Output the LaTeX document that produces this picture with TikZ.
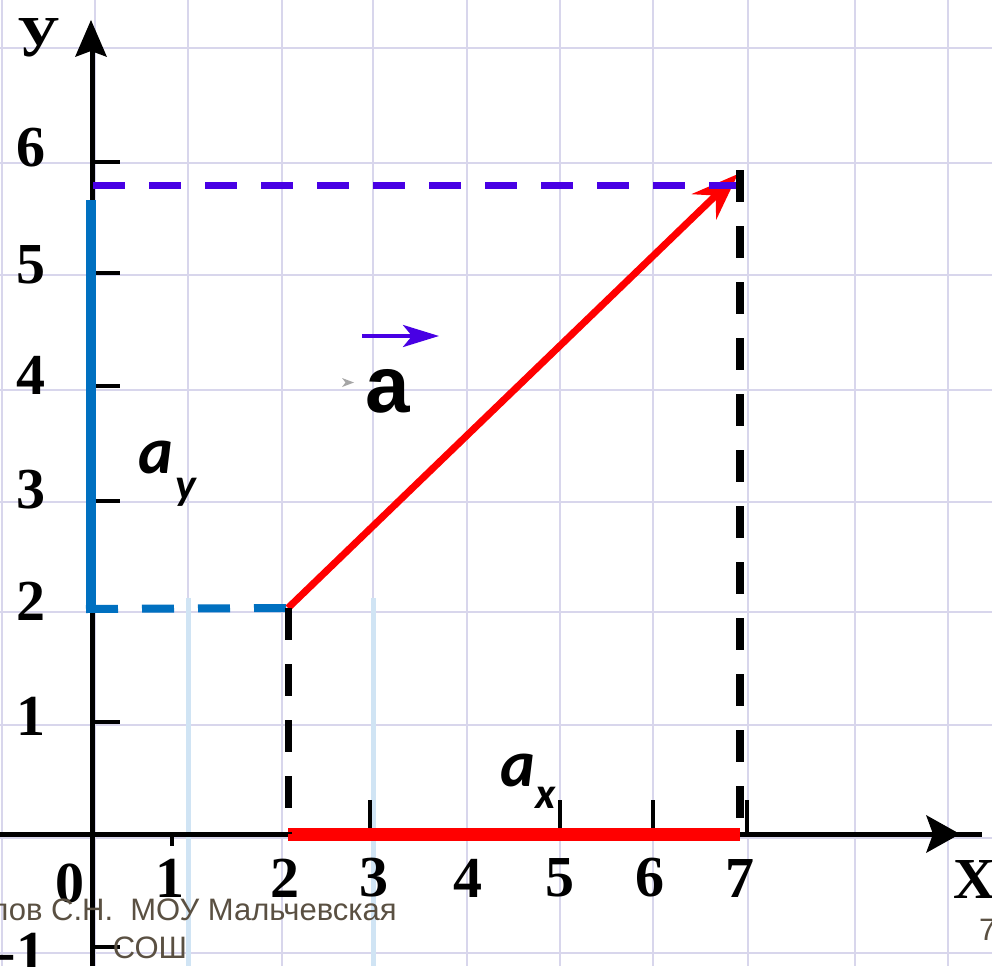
\documentclass[tikz,border=0pt]{standalone}
\usepackage{fontspec}
\setmainfont{Liberation Serif}
\newfontfamily\lsans{Liberation Sans}
\newfontfamily\carl{Carlito}
\usetikzlibrary{arrows.meta}
\definecolor{gridc}{RGB}{216,214,236}
\definecolor{gridb}{RGB}{208,228,244}
\definecolor{bluec}{RGB}{0,112,192}
\definecolor{purp}{RGB}{72,0,228}
\definecolor{redc}{RGB}{255,0,0}
\definecolor{footc}{RGB}{90,80,66}
\begin{document}
\begin{tikzpicture}[x=1pt,y=-1pt,
  gridline/.style={gridc,line width=2.5pt},
  gridblue/.style={gridb,line width=5pt},
  axisline/.style={black,line width=5pt},
  tickmark/.style={black,line width=3.5pt},
  lab/.style={font=\fontsize{58}{60}\selectfont\bfseries, inner sep=0pt},
  dsh/.style={dash pattern=on 32pt off 24pt},
  comp/.style={font=\carl\bfseries\itshape\fontsize{66}{66}\selectfont, anchor=base west, inner sep=0pt},
  compsub/.style={font=\carl\bfseries\itshape\fontsize{44}{44}\selectfont, anchor=base west, inner sep=0pt},
  foot/.style={font=\lsans\fontsize{31}{34}\selectfont, text=footc, inner sep=0pt}
]
\useasboundingbox (0,0) rectangle (992,966);
\fill[white] (0,0) rectangle (992,966);

% grid
\foreach \x in {2,95,188,282,373,467,560,653,748,855,948}
  \draw[gridline] (\x,0) -- (\x,966);
\foreach \y in {48,163,275,390,502,612,725,838,953}
  \draw[gridline] (0,\y) -- (992,\y);
\draw[gridblue] (188,598) -- (188,966);
\draw[gridblue] (373,598) -- (373,966);

% named points
\coordinate (O) at (92,834);
\coordinate (P) at (288,608);
\coordinate (T) at (738,174);
\coordinate (Q) at (740,834);
\coordinate (R) at (288,834);

% axes
\draw[axisline] (92,966) -- (92,40);
\fill[black] (91,20) -- (107,57) -- (91,51) -- (75,57) -- cycle;
\draw[axisline] (0,834) -- (982,834);
\fill[black] (960,834) -- (926,815) -- (933,834) -- (926,853) -- cycle;

% ticks
\foreach \y in {162,273,386,501,722,947}
  \draw[tickmark] (92,\y) -- (120,\y);
\foreach \x in {370,560,653,747}
  \draw[tickmark] (\x,800) -- (\x,834);
\draw[tickmark] (172,834) -- (172,846);

% axis labels
\node[lab] (ly6) at (31,148) {6};
\node[lab] (ly5) at (31,265) {5};
\node[lab] (ly4) at (31,375) {4};
\node[lab] (ly3) at (31,490) {3};
\node[lab] (ly2) at (31,601) {2};
\node[lab] (ly1) at (31,716) {1};
\node[lab] (lym1) at (21,952) {-1};
\node[lab] (l0) at (70,883) {0};
\node[lab] (lx1) at (170,878) {1};
\node[lab] (lx2) at (285,878) {2};
\node[lab] (lx3) at (374,878) {3};
\node[lab] (lx4) at (468,878) {4};
\node[lab] (lx5) at (560,878) {5};
\node[lab] (lx6) at (650,878) {6};
\node[lab] (lx7) at (740,878) {7};
\node[lab] (lX) at (974,879) {X};
\node[lab] (lY) at (39,38) {У};

% blue component
\draw[bluec,line width=10pt] (91,200) -- (91,609);
\draw[bluec,line width=8pt,dsh] (86,609) -- (P);

% red projection on x axis
\draw[redc,line width=13pt] (R) -- (Q);

% red vector
\draw[redc,line width=7pt,-{Stealth[length=47pt,width=35pt,inset=16pt]}] (P) -- (T);

% purple dashed
\draw[purp,line width=7pt,dsh] (93,185) -- (741,185);

% black dashed verticals
\draw[black,line width=8pt,dsh] (740,170) -- (Q);
\draw[black,line width=7pt,dsh] (P) -- (R);

% vector label
\node[font=\lsans\bfseries\fontsize{80}{80}\selectfont, anchor=base west, inner sep=0pt] (avec) at (365,412) {a};
\coordinate (arS) at (362,336);
\coordinate (arE) at (439,336);
\draw[purp,line width=4pt,-{Stealth[length=36pt,width=22pt,inset=9pt]}] (arS) -- (arE);
\fill[gray!70] (342,378) -- (354,382.5) -- (342,387) -- (345.5,382.5) -- cycle;

% component labels
\node[comp] (ay) at (138,473) {a};
\node[compsub] (ays) at (175,499) {y};
\node[comp] (ax) at (500,786) {a};
\node[compsub] (axs) at (535,808) {x};

% footer
\node[foot, anchor=base east] (f1) at (397,920) {лов С.Н.\ \ МОУ Мальчевская};
\node[foot, anchor=base] (f2) at (150,958) {СОШ};
\node[foot, anchor=base west] (f3) at (979,940) {7};
\end{tikzpicture}
\end{document}
